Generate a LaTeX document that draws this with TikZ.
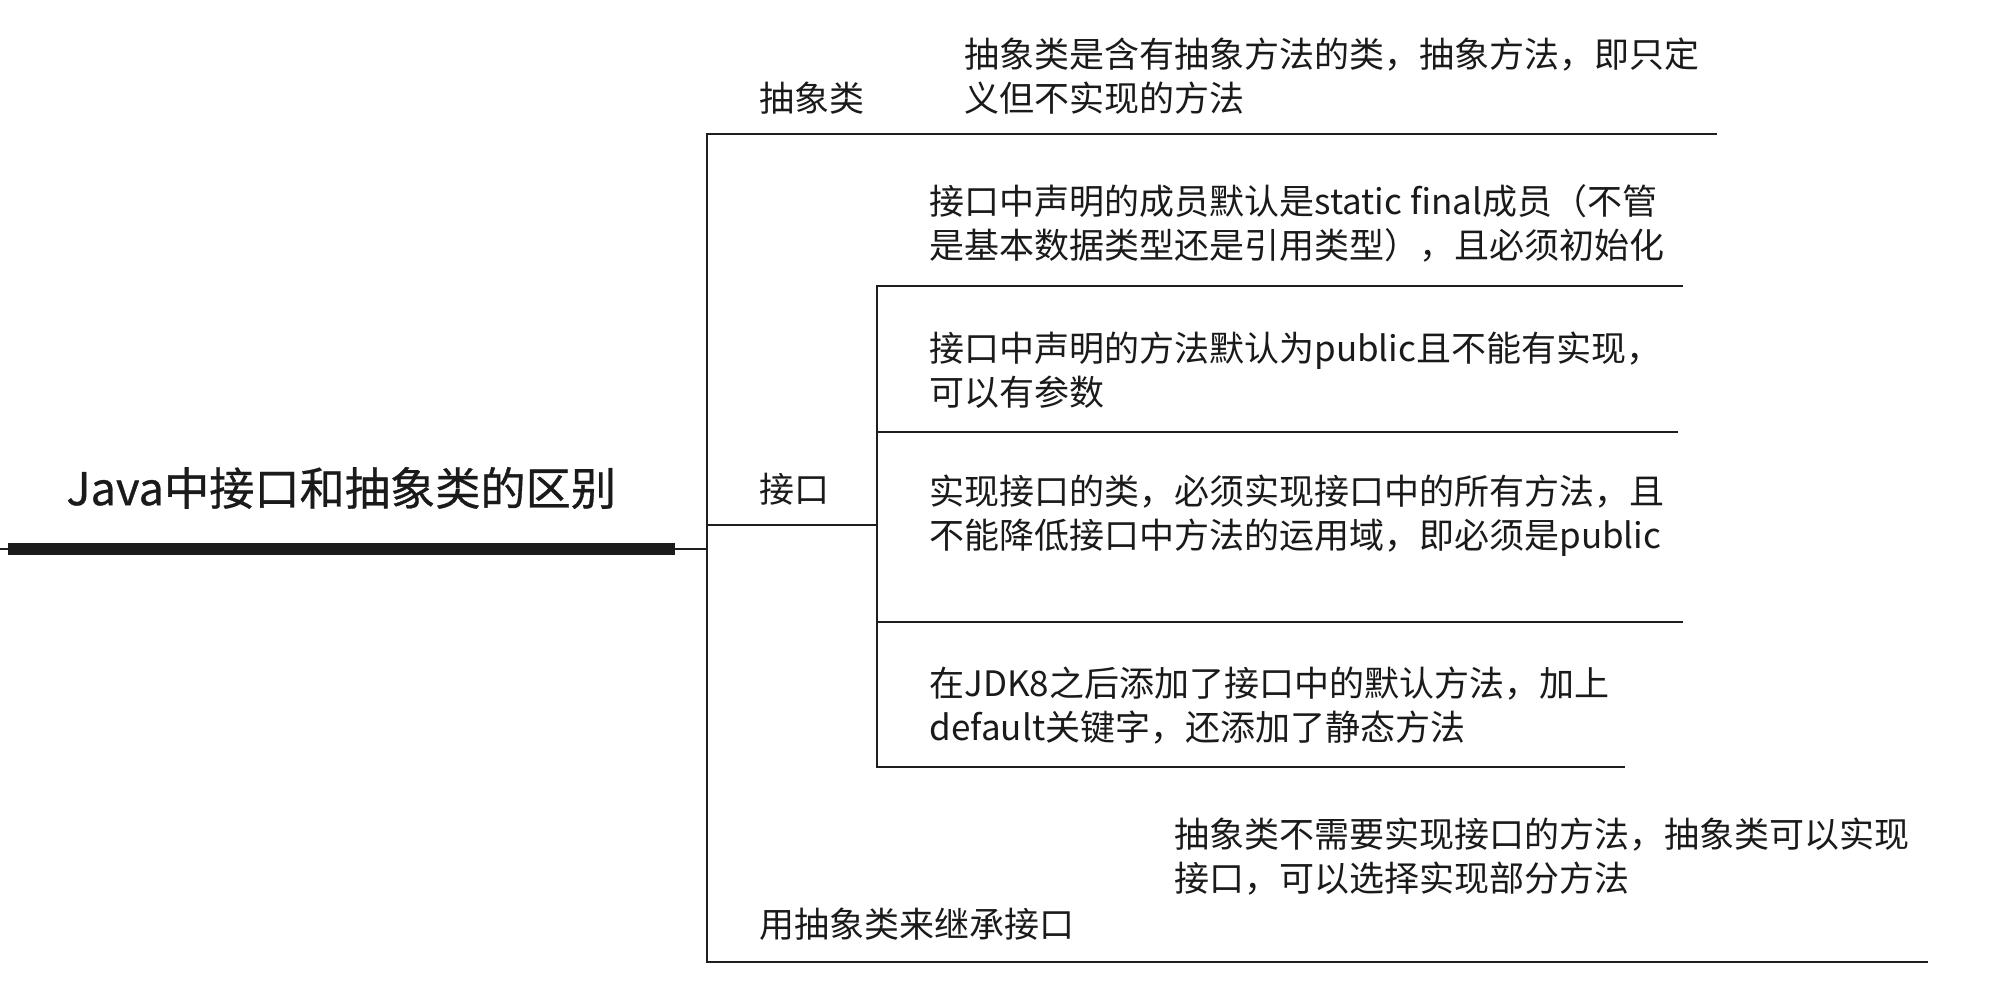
\documentclass[tikz,border=0pt]{standalone}
\usepackage{fontspec}
\setmainfont{Noto Sans CJK SC}
\newfontfamily\headfont[FakeBold=0.7]{Noto Sans CJK SC}
\definecolor{linecol}{HTML}{1E1E1E}
\definecolor{txtcol}{HTML}{1A1A1A}
\begin{document}
\begin{tikzpicture}[x=0.5pt,y=-0.5pt,
  branch/.style={draw=linecol, line width=1.3pt, line cap=rect},
  rootbar/.style={draw=linecol!90!black, line width=6pt},
  lbl/.style={anchor=west, inner sep=0pt, text=txtcol, align=left,
    font=\fontsize{17.5}{22}\selectfont},
  roottext/.style={anchor=west, inner sep=0pt, text=txtcol,
    font=\headfont\fontsize{22.6}{28}\selectfont},
]
\useasboundingbox (0,0) rectangle (2004,994);

% root topic with its heavy underline
\node[roottext] (root) at (66,488) {Java中接口和抽象类的区别};
\coordinate (rootL) at (0,549);
\coordinate (hub) at (707,549);
\coordinate (barL) at (8,549);
\coordinate (barR) at (675,549);
\draw[branch] (rootL) -- (hub);
\draw[rootbar] (barL) -- (barR);

% main spine
\coordinate (spTop) at (707,134);
\coordinate (spBot) at (707,962);
\draw[branch] (spTop) -- (spBot);

% branch: abstract class
\node[lbl] (abs) at (759,98) {抽象类};
\node[lbl] (absA) at (964,76) {抽象类是含有抽象方法的类，抽象方法，即只定\\义但不实现的方法};
\coordinate (absEnd) at (1716,134);
\draw[branch] (spTop) -- (absEnd);

% branch: interface
\node[lbl] (itf) at (759,489) {接口};
\coordinate (itfL) at (707,525);
\coordinate (itfR) at (877,525);
\draw[branch] (itfL) -- (itfR);
\coordinate (subTop) at (877,286);
\coordinate (subBot) at (877,767);
\draw[branch] (subTop) -- (subBot);

\node[lbl] (c1) at (929,223.5) {接口中声明的成员默认是static final成员（不管\\是基本数据类型还是引用类型），且必须初始化};
\coordinate (c1R) at (1682,286);
\draw[branch] (subTop) -- (c1R);

\node[lbl] (c2) at (929,370) {接口中声明的方法默认为public且不能有实现，\\可以有参数};
\coordinate (c2L) at (877,432);
\coordinate (c2R) at (1677,432);
\draw[branch] (c2L) -- (c2R);

\node[lbl] (c3) at (929,515.5) {实现接口的类，必须实现接口中的所有方法，且\\不能降低接口中方法的运用域，即必须是public};
\coordinate (c3L) at (877,622);
\coordinate (c3R) at (1682,622);
\draw[branch] (c3L) -- (c3R);

\node[lbl] (c4) at (929,706) {在JDK8之后添加了接口中的默认方法，加上\\default关键字，还添加了静态方法};
\coordinate (c4R) at (1624,767);
\draw[branch] (subBot) -- (c4R);

% branch: abstract class implementing an interface
\node[lbl] (ext) at (759,924) {用抽象类来继承接口};
\node[lbl] (extA) at (1174,857) {抽象类不需要实现接口的方法，抽象类可以实现\\接口，可以选择实现部分方法};
\coordinate (extEnd) at (1927,962);
\draw[branch] (spBot) -- (extEnd);
\end{tikzpicture}
\end{document}
